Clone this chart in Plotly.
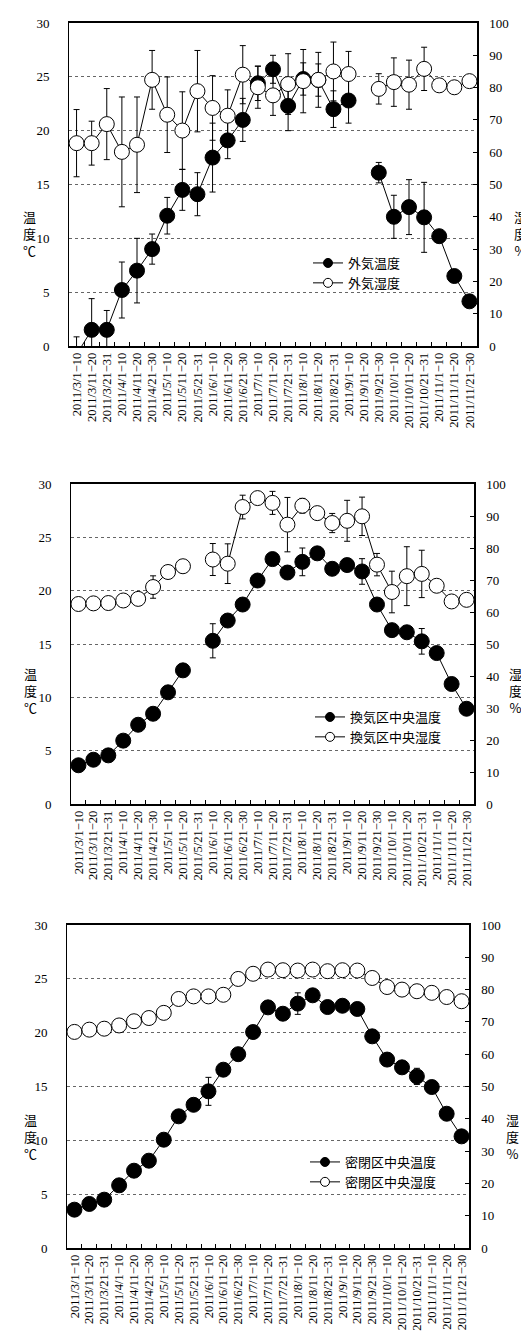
import plotly.graph_objects as go

categories = ["2011/3/1−10", "2011/3/11−20", "2011/3/21−31", "2011/4/1−10", "2011/4/11−20",
              "2011/4/21−30", "2011/5/1−10", "2011/5/11−20", "2011/5/21−31", "2011/6/1−10",
              "2011/6/11−20", "2011/6/21−30", "2011/7/1−10", "2011/7/11−20", "2011/7/21−31",
              "2011/8/1−10", "2011/8/11−20", "2011/8/21−31", "2011/9/1−10", "2011/9/11−20",
              "2011/9/21−30", "2011/10/1−10", "2011/10/11−20", "2011/10/21−31", "2011/11/1−10",
              "2011/11/11−20", "2011/11/21−30"]

# Panel 1: outside air
out_temp = [-0.8, 1.5, 1.5, 5.2, 7.0, 9.0, 12.1, 14.5, 14.1, 17.5, 19.1, 21.0, 24.4, 25.7, 22.3,
            24.8, 24.7, 22.0, 22.8, None, 16.1, 12.0, 12.9, 11.95, 10.2, 6.5, 4.15]
out_temp_err = [1.65, 2.9, 1.8, 2.6, 3.0, 1.4, 1.7, 1.9, 2.0, 3.2, 1.7, 2.0, 1.6, 1.3, 2.3,
                1.5, 1.5, 1.7, 2.1, None, 0.95, 2.0, 2.55, 3.25, 0, 0, 0]
out_hum = [62.8, 62.8, 68.7, 60.1, 62.3, 82.4, 71.6, 66.7, 78.9, 73.7, 71.3, 84.0, 80.1, 77.6, 81.1,
           82.0, 82.4, 85.0, 84.2, None, 79.6, 81.7, 80.9, 85.8, 80.7, 80.1, 82.0]
out_hum_err = [10.4, 6.8, 11.0, 17.0, 14.8, 9.1, 11.7, 12.0, 12.6, 10.0, 8.0, 9.0, 6.5, 6.2, 9.4,
               9.8, 8.5, 9.1, 7.0, None, 4.7, 7.5, 7.6, 6.7, 0, 0, 0]

# Panel 2: ventilated plot centre
vent_temp = [3.63, 4.15, 4.56, 5.94, 7.43, 8.46, 10.47, 12.53, None, 15.3, 17.2, 18.7, 20.95, 22.96,
             21.7, 22.7, 23.5, 22.05, 22.4, 21.8, 18.7, 16.3, 16.1, 15.25, 14.15, 11.25, 8.93]
vent_temp_err = [0, 0, 0, 0, 0.4, 0.4, 0.4, 0, None, 1.6, 0, 0.4, 0.5, 0, 0.6, 1.3, 0.5, 0, 0, 1.2,
                 0, 0, 0.5, 1.2, 0, 0, 0]
vent_hum = [62.5, 62.7, 62.8, 63.6, 64.1, 67.8, 72.5, 74.3, None, 76.4, 75.1, 92.8, 95.6, 94.1,
            87.3, 93.2, 90.9, 87.8, 88.5, 89.9, 74.8, 66.25, 71.2, 71.9, 68.2, 63.3, 63.8]
vent_hum_err = [0, 0, 0, 0, 0, 3.5, 0, 0, None, 5.0, 6.2, 3.7, 1.5, 3.6, 8.5, 2.3, 2.0, 3.0, 6.4,
                6.0, 3.5, 6.5, 9.2, 7.4, 0, 0, 0]

# Panel 3: closed plot centre
closed_temp = [3.56, 4.09, 4.49, 5.82, 7.18, 8.11, 10.06, 12.23, 13.3, 14.55, 16.56, 18.0, 20.06,
               22.35, 21.76, 22.7, 23.47, 22.38, 22.5, 22.2, 19.66, 17.5, 16.78, 15.94, 14.95,
               12.47, 10.37]
closed_temp_err = [0, 0, 0, 0, 0, 0, 0.4, 0, 0, 1.3, 0, 0, 0.5, 0, 0, 1.0, 0, 0, 0, 0.6, 0, 0, 0,
                   0.75, 0, 0, 0]
closed_hum = [66.9, 67.6, 67.9, 68.9, 70.2, 71.2, 72.8, 77.1, 77.9, 77.9, 78.4, 83.3, 84.9, 86.2,
              86.0, 85.9, 86.2, 85.7, 86.0, 85.9, 83.6, 80.8, 80.0, 79.5, 79.0, 77.7, 76.4]
closed_hum_err = [0, 0, 0, 0, 0, 0, 0, 1.0, 0, 0, 0, 0, 0, 0, 0, 0, 0, 0, 0, 0, 0, 0, 0, 0, 0, 0, 0]

temp_names = ["外気温度", "換気区中央温度", "密閉区中央温度"]
hum_names = ["外気湿度", "換気区中央湿度", "密閉区中央湿度"]

W, H = 529, 1334
SERIF = "Liberation Serif"
CJK = "Noto Sans CJK JP"

# panel boxes in pixels: left, right, top, bottom
boxes = [(61, 469, 15, 338), (63, 466, 476, 796), (59, 461, 917, 1240)]
legend_pos = [(300, 240), (302, 694), (297, 1139)]
title_y = [226, 682, 1128]
title_x = [(21, 512), (22, 507), (22, 504)]

panels = [(out_temp, out_temp_err, out_hum, out_hum_err),
          (vent_temp, vent_temp_err, vent_hum, vent_hum_err),
          (closed_temp, closed_temp_err, closed_hum, closed_hum_err)]

fig = go.Figure()
layout = dict(width=W, height=H, autosize=False, margin=dict(l=0, r=0, t=0, b=0),
              paper_bgcolor="white", plot_bgcolor="white", showlegend=True,
              font=dict(family=SERIF, color="black", size=13))
annotations = []

for k, (t, te, h, he) in enumerate(panels):
    xname = "x" if k == 0 else f"x{k+1}"
    yl = 2 * k + 1
    yr = 2 * k + 2
    ylname = "y" if yl == 1 else f"y{yl}"
    yrname = f"y{yr}"
    lgname = "legend" if k == 0 else f"legend{k+1}"
    l, r, tp, bt = boxes[k]
    xdom = [l / W, r / W]
    ydom = [1 - bt / H, 1 - tp / H]

    fig.add_trace(go.Scatter(
        x=categories, y=t, name=temp_names[k], mode="lines+markers",
        xaxis=xname, yaxis=ylname, showlegend=False,
        line=dict(color="black", width=1),
        marker=dict(symbol="circle", size=15, color="black", line=dict(color="black", width=1)),
        error_y=dict(type="data", array=te, visible=True, color="black", thickness=1, width=3),
        cliponaxis=True))
    fig.add_trace(go.Scatter(
        x=categories, y=h, name=hum_names[k], mode="lines+markers",
        xaxis=xname, yaxis=yrname, showlegend=False,
        line=dict(color="black", width=1),
        marker=dict(symbol="circle", size=15, color="white", line=dict(color="black", width=1)),
        error_y=dict(type="data", array=he, visible=True, color="black", thickness=1, width=3),
        cliponaxis=True))
    # legend entries (small symbols like the original)
    for nm, fc in ((temp_names[k], "black"), (hum_names[k], "white")):
        fig.add_trace(go.Scatter(
            x=[None], y=[None], name=nm, mode="lines+markers",
            xaxis=xname, yaxis=ylname, legend=lgname, showlegend=True,
            line=dict(color="black", width=1),
            marker=dict(symbol="circle", size=9, color=fc, line=dict(color="black", width=1))))

    xkey = "xaxis" if k == 0 else f"xaxis{k+1}"
    ylkey = "yaxis" if yl == 1 else f"yaxis{yl}"
    yrkey = f"yaxis{yr}"
    layout[xkey] = dict(domain=xdom, anchor=ylname, type="category", range=[-0.5, 26.5],
                        tickmode="array", tickvals=categories, ticktext=categories,
                        showline=True, linecolor="black", linewidth=1.5, mirror=True,
                        ticks="inside", tickson="boundaries", ticklen=4, tickcolor="black",
                        tickangle=-90, tickfont=dict(family=SERIF, size=12.5),
                        showgrid=False, zeroline=False, ticklabelstandoff=0,
                        automargin=False)
    layout[ylkey] = dict(domain=ydom, anchor=xname, range=[0, 30], dtick=5, tick0=0,
                         showline=True, linecolor="black", linewidth=1,
                         showgrid=True, gridcolor="#666666", griddash="dot", gridwidth=1,
                         zeroline=False, ticks="", tickfont=dict(family=SERIF, size=13),
                         ticklabelstandoff=16, automargin=False)
    layout[yrkey] = dict(domain=ydom, anchor=xname, overlaying=ylname, side="right",
                         range=[0, 100], dtick=10, tick0=0,
                         showline=True, linecolor="black", linewidth=1.5,
                         showgrid=False, zeroline=False, ticks="inside", ticklen=4,
                         tickcolor="black", tickfont=dict(family=SERIF, size=13),
                         ticklabelstandoff=8, automargin=False)
    lx, ly = legend_pos[k]
    layout[lgname] = dict(x=lx / W, y=1 - ly / H, xanchor="left", yanchor="top",
                          bgcolor="rgba(0,0,0,0)", borderwidth=0,
                          font=dict(family=CJK, size=13, color="black"),
                          tracegroupgap=0, itemwidth=30)
    annotations.append(dict(text="温<br>度<br>℃", x=title_x[k][0] / W, y=1 - title_y[k] / H,
                            xref="paper", yref="paper", showarrow=False,
                            font=dict(family=CJK, size=13, color="black"),
                            xanchor="center", yanchor="middle", align="center"))
    annotations.append(dict(text="湿<br>度<br>%", x=title_x[k][1] / W, y=1 - title_y[k] / H,
                            xref="paper", yref="paper", showarrow=False,
                            font=dict(family=CJK, size=13, color="black"),
                            xanchor="center", yanchor="middle", align="center"))

layout["annotations"] = annotations
fig.update_layout(**layout)
fig.write_html("out.html")
